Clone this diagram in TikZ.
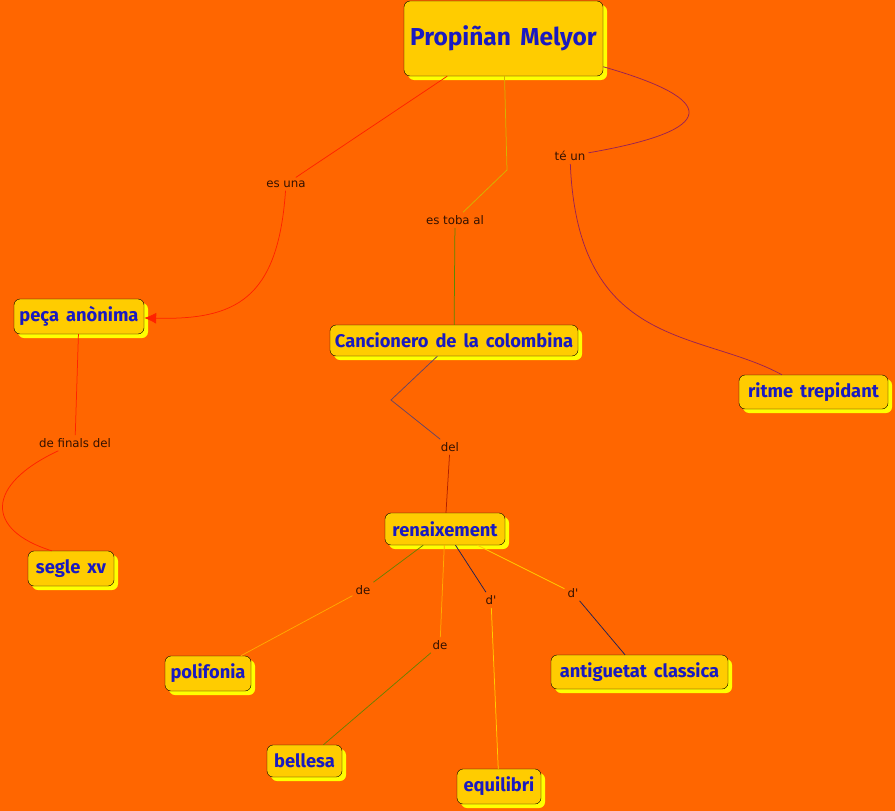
\documentclass[tikz,border=0pt]{standalone}
\usepackage{fontspec}
\setmainfont{DejaVu Sans}
\newfontfamily\conceptfont{Fira Sans}[WordSpace=1.6]
\usetikzlibrary{shadows, arrows.meta}

\definecolor{bgorange}{HTML}{FF6600}
\definecolor{boxfill}{HTML}{FFCC00}
\definecolor{boxshadow}{HTML}{FFFF00}
\definecolor{boxtext}{HTML}{1A1AC0}
\definecolor{lbltext}{HTML}{331100}
\definecolor{lred}{HTML}{FF2200}
\definecolor{lgold}{HTML}{D4B400}
\definecolor{lgreen}{HTML}{5A8A00}
\definecolor{lpurple}{HTML}{992255}
\definecolor{lslate}{HTML}{664466}
\definecolor{ldarkred}{HTML}{B02000}
\definecolor{lolive}{HTML}{6B8000}
\definecolor{lamber}{HTML}{FFAA00}
\definecolor{lnavy}{HTML}{222255}
\definecolor{lyellow}{HTML}{FFCC00}

\begin{document}
\begin{tikzpicture}[x=1pt, y=-1pt,
    concept/.style={rectangle, draw=black, thin, rounded corners=6pt, fill=boxfill, text=boxtext,
      font=\conceptfont\bfseries\fontsize{18.3}{21}\selectfont, inner sep=2pt,
      drop shadow={shadow xshift=4pt, shadow yshift=-4pt, fill=boxshadow, opacity=1}},
    lbl/.style={font=\fontsize{11.8}{13}\selectfont, text=lbltext, inner sep=3pt},
    link/.style={line width=0.75pt}]

    \fill[bgorange] (0,0) rectangle (895,811);
    \useasboundingbox (0,0) rectangle (895,811);

    %% concepts
    \node (top) [concept, minimum width=199pt, minimum height=75pt,
      font=\conceptfont\bfseries\fontsize{24.5}{28}\selectfont] at (503.5,38.5) {Propiñan Melyor};
    \node (peca) [concept, minimum width=130pt, minimum height=35pt] at (79,316.5) {peça anònima};
    \node (segle) [concept, minimum width=86pt, minimum height=35pt] at (71,568.5) {segle xv};
    \node (canc) [concept, minimum width=248pt, minimum height=31pt] at (454,340.5) {Cancionero de la colombina};
    \node (ritme) [concept, minimum width=149pt, minimum height=34pt] at (813.5,392) {ritme trepidant};
    \node (ren) [concept, minimum width=120pt, minimum height=32pt] at (445,529) {renaixement};
    \node (poli) [concept, minimum width=86pt, minimum height=35pt] at (208,673.5) {polifonia};
    \node (anti) [concept, minimum width=177pt, minimum height=34pt] at (639.5,672) {antiguetat classica};
    \node (bell) [concept, minimum width=75pt, minimum height=32pt] at (304.5,761) {bellesa};
    \node (equi) [concept, minimum width=84pt, minimum height=35pt] at (499,786.5) {equilibri};

    %% linking words
    \node (esuna) [lbl] at (286,184) {es una};
    \node (estoba) [lbl] at (455,220) {es toba al};
    \node (teun) [lbl] at (570,156) {té un};
    \node (definals) [lbl] at (75,443) {de finals del};
    \node (del) [lbl] at (450,447) {del};
    \node (de1) [lbl] at (363,590) {de};
    \node (de2) [lbl] at (440,645) {de};
    \node (d1) [lbl] at (491,600) {d\textquotesingle};
    \node (d2) [lbl] at (573,593) {d\textquotesingle};

    %% from the title
    \draw[link, lred] (top) -- (esuna);
    \draw[link, lred, -{Latex[length=12pt, width=11pt]}] (esuna) .. controls (278,300) and (235,320) .. (peca);
    \draw[link, lgold] (top) -- (507,170) -- (estoba);
    \draw[link, lgreen] (estoba) -- (canc);
    \draw[link, lpurple] (top) .. controls (720,100) and (720,130) .. (teun);
    \draw[link, lpurple] (teun) .. controls (578,350) and (700,330) .. (ritme);

    \draw[link, lred] (peca) -- (definals);
    \draw[link, lred] (definals) .. controls (-15,485) and (-15,530) .. ([xshift=24pt]segle.north west);

    \draw[link, lslate] (canc) -- (391,400) -- (del);
    \draw[link, ldarkred] (del) -- (ren);

    %% renaixement
    \draw[link, lolive] (ren) -- (de1);
    \draw[link, lamber] (de1) -- (poli);
    \draw[link, lamber] (ren) -- (de2);
    \draw[link, lolive] (de2) -- (bell);
    \draw[link, lnavy] (ren) -- (d1);
    \draw[link, lyellow] (d1) -- (equi);
    \draw[link, lyellow] (ren) -- (d2);
    \draw[link, lnavy] (d2) -- (anti);

\end{tikzpicture}
\end{document}
